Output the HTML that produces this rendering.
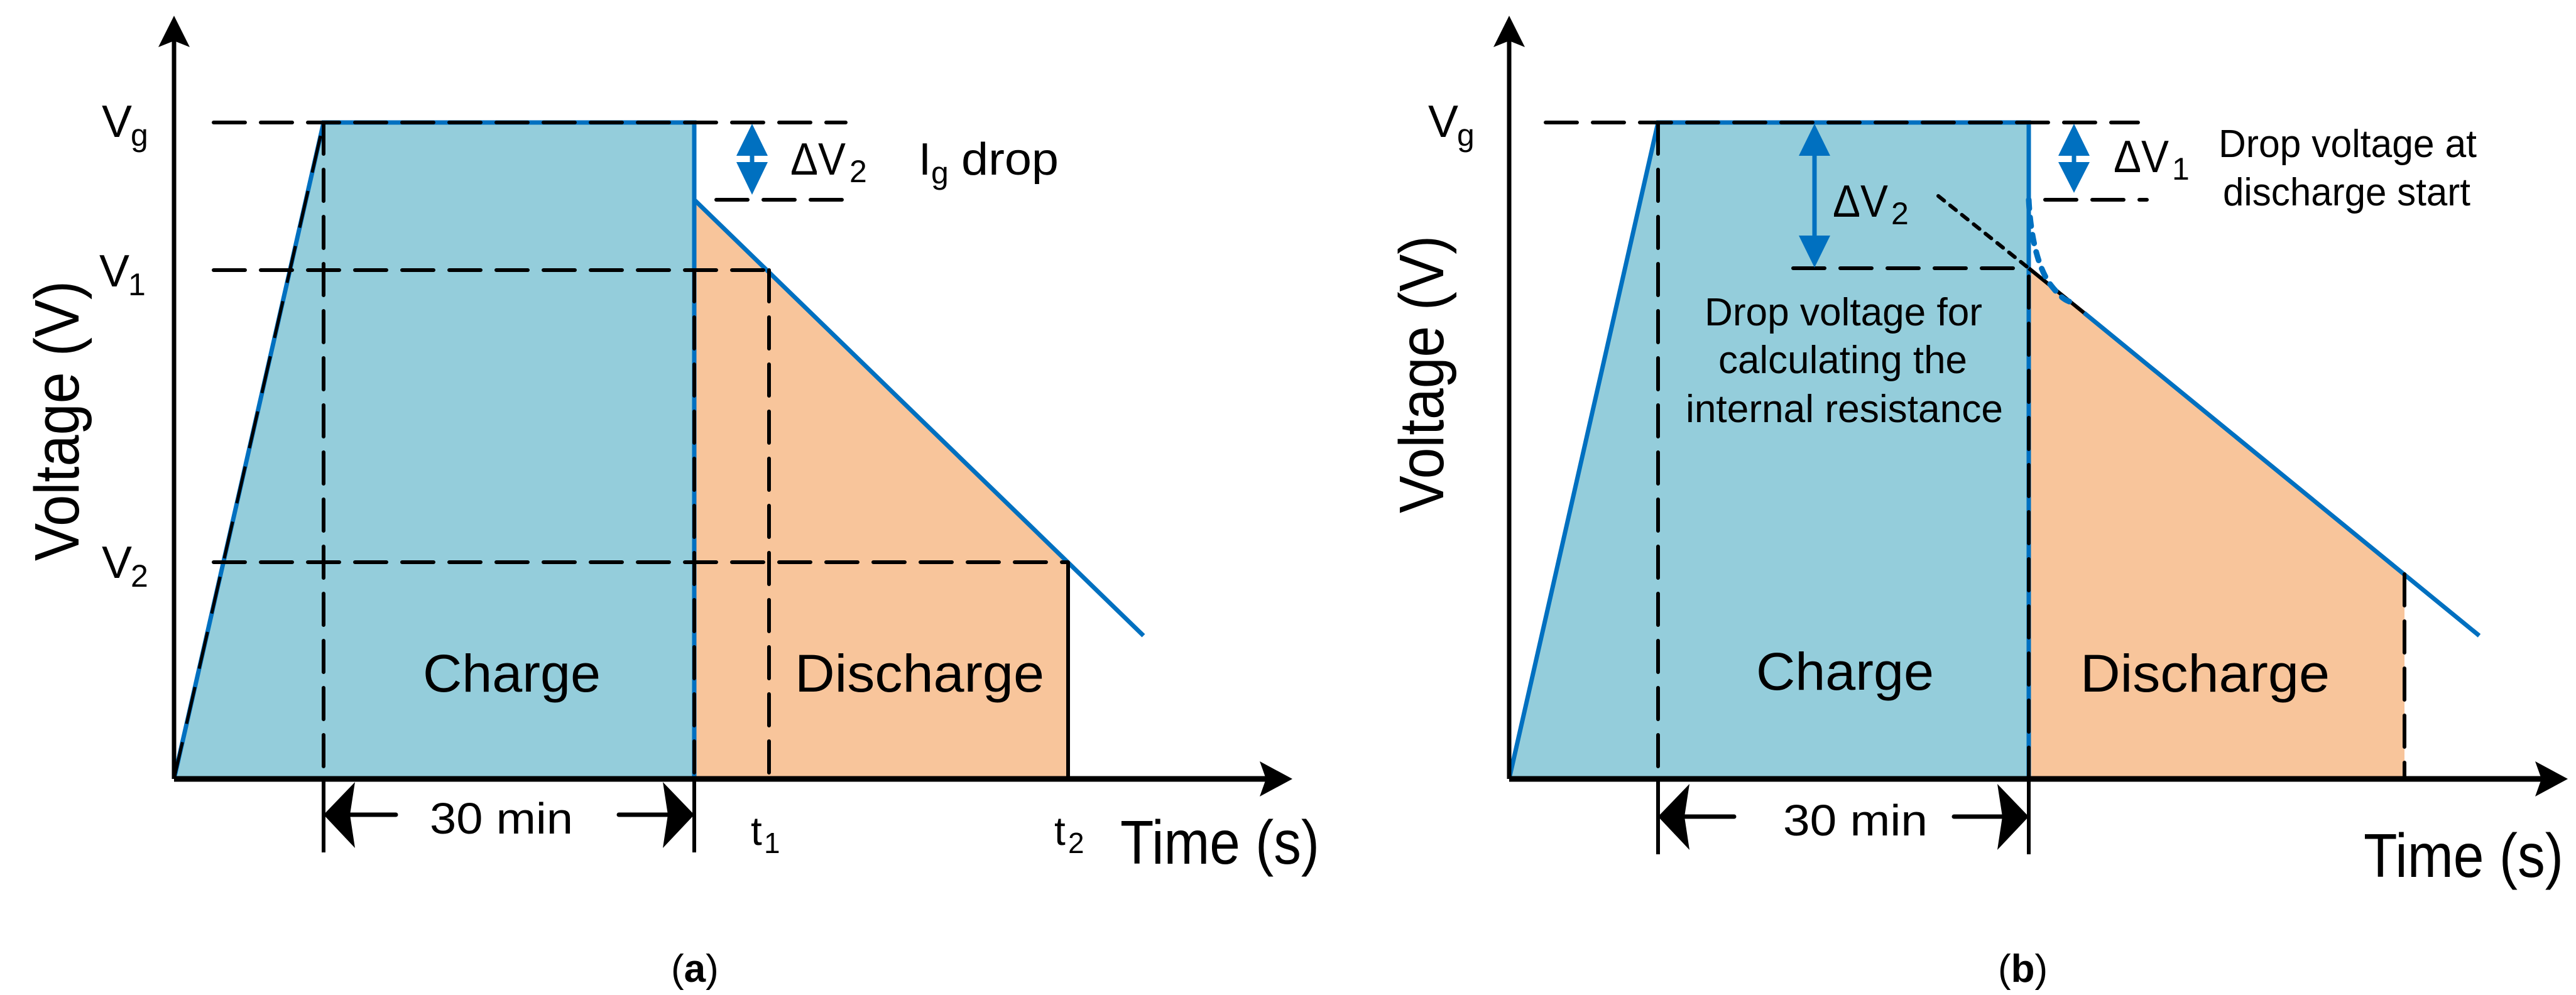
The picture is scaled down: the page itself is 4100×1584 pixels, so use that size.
<!DOCTYPE html>
<html><head><meta charset="utf-8"><style>
html,body{margin:0;padding:0;background:#fff}
svg{display:block}
text{font-family:"Liberation Sans",sans-serif;fill:#000}
</style></head><body>
<svg width="4100" height="1584" viewBox="0 0 4100 1584" xmlns="http://www.w3.org/2000/svg">
<!-- ============ PANEL A ============ -->
<polygon points="277,1240 515,195 1105,195 1105,1240" fill="#94CDDB"/>
<polygon points="1105,318 1700,895 1700,1240 1105,1240" fill="#F8C59B"/>
<polyline points="277,1240 515,195 1105,195 1105,318" fill="none" stroke="#0070C0" stroke-width="7"/>
<line x1="1105" y1="318" x2="1820" y2="1012" stroke="#0070C0" stroke-width="7"/>
<line x1="1105" y1="318" x2="1105" y2="1240" stroke="#0070C0" stroke-width="7"/>
<g stroke="#000" stroke-width="6" stroke-dasharray="50,25" fill="none" stroke-linecap="round">
<line x1="340" y1="195" x2="1346" y2="195"/>
<line x1="1140" y1="318" x2="1346" y2="318"/>
<line x1="340" y1="430" x2="1224" y2="430"/>
<line x1="340" y1="895" x2="1700" y2="895"/>
<line x1="515" y1="195" x2="515" y2="1240"/>
<line x1="1105" y1="430" x2="1105" y2="1240"/>
<line x1="1224" y1="430" x2="1224" y2="1240"/>
</g>
<line x1="1700" y1="895" x2="1700" y2="1240" stroke="#000" stroke-width="6"/>
<line x1="277" y1="1240" x2="515" y2="195" stroke="#000" stroke-width="5" stroke-dasharray="60,30"/>
<line x1="277" y1="1240" x2="277" y2="60" stroke="#000" stroke-width="7"/>
<polygon points="277,25 252,75 277,65 302,75" fill="#000"/>
<line x1="277" y1="1240" x2="2020" y2="1240" stroke="#000" stroke-width="9"/>
<polygon points="2057,1240 2005,1212 2015,1240 2005,1268" fill="#000"/>
<line x1="515" y1="1240" x2="515" y2="1357" stroke="#000" stroke-width="6"/>
<line x1="1105" y1="1240" x2="1105" y2="1357" stroke="#000" stroke-width="6"/>
<line x1="540" y1="1297" x2="630" y2="1297" stroke="#000" stroke-width="7" stroke-linecap="round"/>
<polygon points="515,1297 565,1245 557,1297 565,1350" fill="#000"/>
<line x1="985" y1="1297" x2="1080" y2="1297" stroke="#000" stroke-width="7" stroke-linecap="round"/>
<polygon points="1105,1297 1055,1245 1063,1297 1055,1350" fill="#000"/>
<text x="684" y="1327" font-size="70" textLength="228" lengthAdjust="spacingAndGlyphs">30 min</text>
<line x1="1197" y1="220" x2="1197" y2="295" stroke="#0070C0" stroke-width="7"/>
<polygon points="1197,197 1172,248 1222,248" fill="#0070C0"/>
<polygon points="1197,310 1172,258 1222,258" fill="#0070C0"/>
<text x="1258" y="278" font-size="72" textLength="88" lengthAdjust="spacingAndGlyphs">ΔV</text>
<text x="1352" y="290" font-size="50">2</text>
<text x="1462" y="278" font-size="72">I</text>
<text x="1482" y="292" font-size="50">g</text>
<text x="1530" y="278" font-size="72" textLength="155" lengthAdjust="spacingAndGlyphs">drop</text>
<text x="162" y="218" font-size="72">V</text><text x="208" y="232" font-size="50">g</text>
<text x="158" y="456" font-size="72">V</text><text x="204" y="470" font-size="50">1</text>
<text x="162" y="920" font-size="72">V</text><text x="208" y="934" font-size="50">2</text>
<text x="1195" y="1345" font-size="64">t</text><text x="1216" y="1358" font-size="46">1</text>
<text x="1678" y="1345" font-size="64">t</text><text x="1700" y="1358" font-size="46">2</text>
<text x="673" y="1101" font-size="84" textLength="283" lengthAdjust="spacingAndGlyphs">Charge</text>
<text x="1265" y="1101" font-size="84" textLength="397" lengthAdjust="spacingAndGlyphs">Discharge</text>
<text x="1783" y="1375" font-size="98" textLength="317" lengthAdjust="spacingAndGlyphs">Time (s)</text>
<text transform="translate(125,893) rotate(-90)" font-size="100" textLength="446" lengthAdjust="spacingAndGlyphs">Voltage (V)</text>
<text x="1068" y="1563" font-size="62" font-family="Liberation Serif">(<tspan font-weight="bold">a</tspan>)</text>

<!-- ============ PANEL B ============ -->
<polygon points="2402,1240 2639,195 3229,195 3229,1240" fill="#94CDDB"/>
<polygon points="3229,427 3827,914 3827,1240 3229,1240" fill="#F8C59B"/>
<polyline points="2402,1240 2639,195 3229,195 3229,318" fill="none" stroke="#0070C0" stroke-width="7"/>
<line x1="3229" y1="318" x2="3229" y2="1240" stroke="#0070C0" stroke-width="7"/>
<line x1="3229" y1="427" x2="3317" y2="498" stroke="#000" stroke-width="6"/>
<line x1="3317" y1="498" x2="3946" y2="1012" stroke="#0070C0" stroke-width="7"/>
<line x1="3085" y1="312" x2="3229" y2="427" stroke="#000" stroke-width="6" stroke-dasharray="12,12" stroke-linecap="round"/>
<path d="M3229,318 C3232,380 3245,430 3265,455 S3290,478 3298,482" fill="none" stroke="#0070C0" stroke-width="9" stroke-dasharray="14,14" stroke-linecap="round"/>
<g stroke="#000" stroke-width="6" stroke-dasharray="50,25" fill="none" stroke-linecap="round">
<line x1="2460" y1="195" x2="3403" y2="195"/>
<line x1="3255" y1="318" x2="3417" y2="318"/>
<line x1="2854" y1="427" x2="3229" y2="427"/>
<line x1="2639" y1="195" x2="2639" y2="1240"/>
<line x1="3229" y1="440" x2="3229" y2="1240"/>
<line x1="3827" y1="914" x2="3827" y2="1240"/>
</g>
<line x1="2402" y1="1240" x2="2402" y2="60" stroke="#000" stroke-width="7"/>
<polygon points="2402,25 2377,75 2402,65 2427,75" fill="#000"/>
<line x1="2402" y1="1240" x2="4050" y2="1240" stroke="#000" stroke-width="9"/>
<polygon points="4087,1240 4035,1212 4045,1240 4035,1268" fill="#000"/>
<line x1="2639" y1="1240" x2="2639" y2="1360" stroke="#000" stroke-width="6"/>
<line x1="3229" y1="1240" x2="3229" y2="1360" stroke="#000" stroke-width="6"/>
<line x1="2665" y1="1300" x2="2760" y2="1300" stroke="#000" stroke-width="7" stroke-linecap="round"/>
<polygon points="2639,1300 2689,1248 2681,1300 2689,1353" fill="#000"/>
<line x1="3110" y1="1300" x2="3205" y2="1300" stroke="#000" stroke-width="7" stroke-linecap="round"/>
<polygon points="3229,1300 3179,1248 3187,1300 3179,1353" fill="#000"/>
<text x="2838" y="1330" font-size="70" textLength="230" lengthAdjust="spacingAndGlyphs">30 min</text>
<line x1="2888" y1="230" x2="2888" y2="395" stroke="#0070C0" stroke-width="7"/>
<polygon points="2888,197 2863,248 2913,248" fill="#0070C0"/>
<polygon points="2888,426 2863,375 2913,375" fill="#0070C0"/>
<text x="2917" y="345" font-size="72" textLength="88" lengthAdjust="spacingAndGlyphs">ΔV</text>
<text x="3010" y="357" font-size="50">2</text>
<line x1="3301" y1="220" x2="3301" y2="290" stroke="#0070C0" stroke-width="7"/>
<polygon points="3301,197 3276,248 3326,248" fill="#0070C0"/>
<polygon points="3301,307 3276,258 3326,258" fill="#0070C0"/>
<text x="3364" y="274" font-size="72" textLength="88" lengthAdjust="spacingAndGlyphs">ΔV</text>
<text x="3457" y="286" font-size="50">1</text>
<text x="3531" y="250" font-size="62" textLength="411" lengthAdjust="spacingAndGlyphs">Drop voltage at</text>
<text x="3538" y="327" font-size="62" textLength="394" lengthAdjust="spacingAndGlyphs">discharge start</text>
<text x="2713" y="518" font-size="62" textLength="442" lengthAdjust="spacingAndGlyphs">Drop voltage for</text>
<text x="2735" y="594" font-size="62" textLength="396" lengthAdjust="spacingAndGlyphs">calculating the</text>
<text x="2683" y="672" font-size="62" textLength="505" lengthAdjust="spacingAndGlyphs">internal resistance</text>
<text x="2273" y="218" font-size="72">V</text><text x="2319" y="232" font-size="50">g</text>
<text x="2795" y="1098" font-size="84" textLength="283" lengthAdjust="spacingAndGlyphs">Charge</text>
<text x="3311" y="1101" font-size="84" textLength="397" lengthAdjust="spacingAndGlyphs">Discharge</text>
<text x="3762" y="1396" font-size="98" textLength="318" lengthAdjust="spacingAndGlyphs">Time (s)</text>
<text transform="translate(2297,817) rotate(-90)" font-size="100" textLength="442" lengthAdjust="spacingAndGlyphs">Voltage (V)</text>
<text x="3180" y="1563" font-size="62" font-family="Liberation Serif">(<tspan font-weight="bold">b</tspan>)</text>
</svg>
</body></html>
